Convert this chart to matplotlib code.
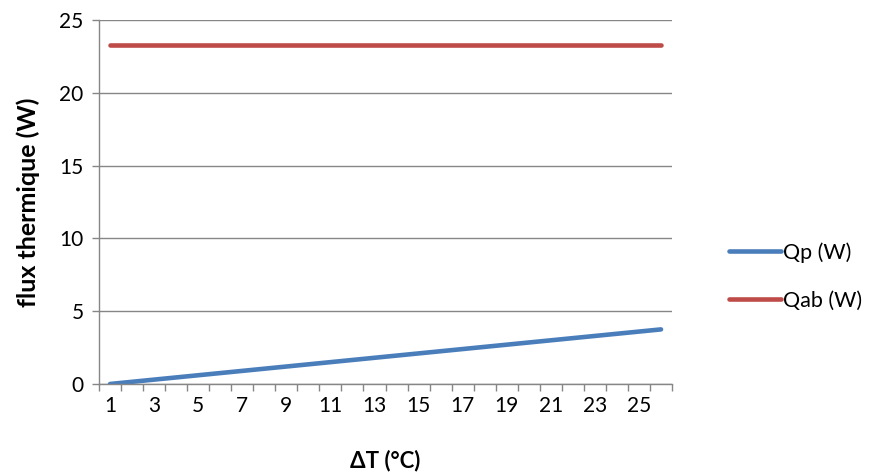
import matplotlib.pyplot as plt
from matplotlib.ticker import FixedLocator

# Data
delta_t = list(range(1, 27))
qp = [0.00, 0.15, 0.30, 0.45, 0.60, 0.75, 0.90, 1.05, 1.20, 1.35,
      1.50, 1.65, 1.80, 1.95, 2.10, 2.25, 2.40, 2.55, 2.70, 2.85,
      3.00, 3.15, 3.30, 3.45, 3.60, 3.75]
qab = [23.3] * 26

plt.rcParams['font.family'] = ['Lato', 'DejaVu Sans']

fig = plt.figure(figsize=(8.77, 4.75), dpi=100)
ax = fig.add_axes([0.1129, 0.1916, 0.6534, 0.7663])

pos = list(range(len(delta_t)))
l1, = ax.plot(pos, qp, color='#4A7EBB', lw=3.3, solid_capstyle='round', label='Qp (W)')
l2, = ax.plot(pos, qab, color='#BE4B48', lw=3.3, solid_capstyle='round', label='Qab (W)')

ax.set_xlim(-0.5, len(delta_t) - 0.5)
ax.set_ylim(0, 25)
ax.set_yticks([0, 5, 10, 15, 20, 25])
ax.set_xticks(pos)
ax.set_xticklabels([str(v) if v % 2 == 1 else '' for v in delta_t])
ax.xaxis.set_minor_locator(FixedLocator([p - 0.5 for p in range(len(delta_t) + 1)]))

grey = '#868686'
ax.grid(axis='y', color=grey, lw=1)
ax.set_axisbelow(True)
for s in ['top', 'right']:
    ax.spines[s].set_visible(False)
for s in ['left', 'bottom']:
    ax.spines[s].set_color(grey)
    ax.spines[s].set_linewidth(1)

ax.tick_params(axis='x', which='major', length=0, pad=9, labelsize=15)
ax.tick_params(axis='x', which='minor', length=5, color=grey, width=1)
ax.tick_params(axis='y', length=5, color=grey, width=1, labelsize=15, pad=6)

ax.set_xlabel('ΔT (°C)', fontsize=16, fontweight='bold', labelpad=24)
ax.set_ylabel('flux thermique (W)', fontsize=18, fontweight='bold', labelpad=14)

fig.legend(handles=[l1, l2], loc='center left', bbox_to_anchor=(0.809, 0.418),
           frameon=False, fontsize=15.5, handlelength=2.4, handletextpad=0.1,
           labelspacing=1.3)

fig.savefig('out.png', dpi=100)
